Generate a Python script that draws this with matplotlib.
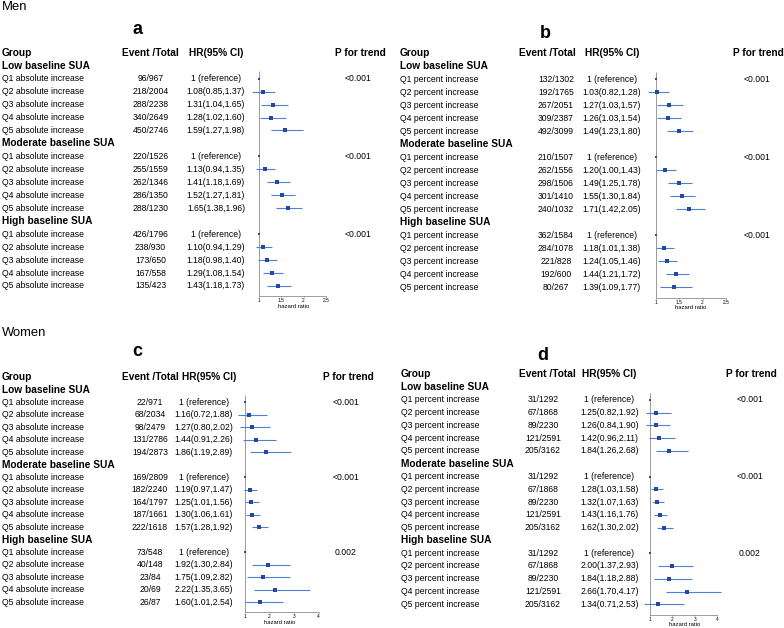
import numpy as np
import matplotlib
matplotlib.use("Agg")
import matplotlib.pyplot as plt

plt.rcParams['font.family'] = ['Liberation Sans', 'DejaVu Sans']

# data

groups = ["Low baseline SUA", "Moderate baseline SUA", "High baseline SUA"]

a_events = ["96/967", "218/2004", "288/2238", "340/2649", "450/2746",
            "220/1526", "255/1559", "262/1346", "286/1350", "288/1230",
            "426/1796", "238/930", "173/650", "167/558", "135/423"]
a_hr = [1, 1.08, 1.31, 1.28, 1.59, 1, 1.13, 1.41, 1.52, 1.65, 1, 1.10, 1.18, 1.29, 1.43]
a_lo = [1, 0.85, 1.04, 1.02, 1.27, 1, 0.94, 1.18, 1.27, 1.38, 1, 0.94, 0.98, 1.08, 1.18]
a_hi = [1, 1.37, 1.65, 1.60, 1.98, 1, 1.35, 1.69, 1.81, 1.96, 1, 1.29, 1.40, 1.54, 1.73]
a_p = ["<0.001", "<0.001", "<0.001"]

b_events = ["132/1302", "192/1765", "267/2051", "309/2387", "492/3099",
            "210/1507", "262/1556", "298/1506", "301/1410", "240/1032",
            "362/1584", "284/1078", "221/828", "192/600", "80/267"]
b_hr = [1, 1.03, 1.27, 1.26, 1.49, 1, 1.20, 1.49, 1.55, 1.71, 1, 1.18, 1.24, 1.44, 1.39]
b_lo = [1, 0.82, 1.03, 1.03, 1.23, 1, 1.00, 1.25, 1.30, 1.42, 1, 1.01, 1.05, 1.21, 1.09]
b_hi = [1, 1.28, 1.57, 1.54, 1.80, 1, 1.43, 1.78, 1.84, 2.05, 1, 1.38, 1.46, 1.72, 1.77]
b_p = ["<0.001", "<0.001", "<0.001"]

c_events = ["22/971", "68/2034", "98/2479", "131/2786", "194/2873",
            "169/2809", "182/2240", "164/1797", "187/1661", "222/1618",
            "73/548", "40/148", "23/84", "20/69", "26/87"]
c_hr = [1, 1.16, 1.27, 1.44, 1.86, 1, 1.19, 1.25, 1.30, 1.57, 1, 1.92, 1.75, 2.22, 1.60]
c_lo = [1, 0.72, 0.80, 0.91, 1.19, 1, 0.97, 1.01, 1.06, 1.28, 1, 1.30, 1.09, 1.35, 1.01]
c_hi = [1, 1.88, 2.02, 2.26, 2.89, 1, 1.47, 1.56, 1.61, 1.92, 1, 2.84, 2.82, 3.65, 2.54]
c_p = ["<0.001", "<0.001", "0.002"]

d_events = ["31/1292", "67/1868", "89/2230", "121/2591", "205/3162",
            "31/1292", "67/1868", "89/2230", "121/2591", "205/3162",
            "31/1292", "67/1868", "89/2230", "121/2591", "205/3162"]
d_hr = [1, 1.25, 1.26, 1.42, 1.84, 1, 1.28, 1.32, 1.43, 1.62, 1, 2.00, 1.84, 2.66, 1.34]
d_lo = [1, 0.82, 0.84, 0.96, 1.26, 1, 1.03, 1.07, 1.16, 1.30, 1, 1.37, 1.18, 1.70, 0.71]
d_hi = [1, 1.92, 1.90, 2.11, 2.68, 1, 1.58, 1.63, 1.76, 2.02, 1, 2.93, 2.88, 4.17, 2.53]
d_p = ["<0.001", "<0.001", "0.002"]

W, H = 784, 628
fig = plt.figure(figsize=(W / 100, H / 100), dpi=100)

def fx(px):
    return px / W

def fy(py):
    return 1 - py / H

line_col = '#4F80D4'
box_col = '#2548A8'
small = 6.2
head = 7.3


def panel(tag, tag_xy, y0, dy, label_x, ev_head_x, ev_x, hr_head_x, hr_x, p_head_x, p_x,
          x1, ppu, ticks, kind, events, hr, lo, hi, pvals):
    row = lambda i: y0 + dy * i

    fig.text(fx(tag_xy[0]), fy(tag_xy[1]), tag, fontsize=13, fontweight='bold',
             ha='center', va='center')
    fig.text(fx(label_x), fy(row(0)), "Group", fontsize=head, fontweight='bold', va='center')
    fig.text(fx(ev_head_x), fy(row(0)), "Event /Total", fontsize=head, fontweight='bold',
             ha='center', va='center')
    fig.text(fx(hr_head_x), fy(row(0)), "HR(95% CI)", fontsize=head, fontweight='bold',
             ha='center', va='center')
    fig.text(fx(p_head_x), fy(row(0)), "P for trend", fontsize=head, fontweight='bold',
             ha='center', va='center')

    rows = []
    for g in range(3):
        fig.text(fx(label_x), fy(row(1 + 6 * g)), groups[g], fontsize=head,
                 fontweight='bold', va='center')
        for k in range(5):
            r = 2 + 6 * g + k
            i = 5 * g + k
            rows.append(r)
            fig.text(fx(label_x), fy(row(r)), f"Q{k+1} {kind} increase", fontsize=small, va='center')
            fig.text(fx(ev_x), fy(row(r)), events[i], fontsize=small, ha='center', va='center')
            if k == 0:
                txt = "1 (reference)"
                fig.text(fx(p_x), fy(row(r)), pvals[g], fontsize=small, ha='center', va='center')
            else:
                txt = f"{hr[i]:.2f}({lo[i]:.2f},{hi[i]:.2f})"
            fig.text(fx(hr_x), fy(row(r)), txt, fontsize=small, ha='center', va='center')

    # forest part
    bot_row = 18.8
    left, right = x1 - 30, x1 + 100
    top, bottom = row(1), row(bot_row)
    ax = fig.add_axes([fx(left), fy(bottom), fx(right) - fx(left), (bottom - top) / H])
    ax.set_xlim(1 + (left - x1) / ppu, 1 + (right - x1) / ppu)
    ax.set_ylim(bot_row, 1)
    ax.patch.set_alpha(0)

    ax.vlines(1, 1.45, bot_row, color='#8a8a8a', lw=0.6)
    rows = np.array(rows)
    hr = np.array(hr); lo = np.array(lo); hi = np.array(hi)
    ref = hr == 1
    ax.plot(hr[ref], rows[ref], 's', ms=1.5, color=box_col, mew=0)
    ax.errorbar(hr[~ref], rows[~ref], xerr=[hr[~ref] - lo[~ref], hi[~ref] - hr[~ref]],
                fmt='s', ms=2.6, mew=0, color=box_col, ecolor=line_col, elinewidth=0.8,
                capsize=0.8, capthick=0.5, clip_on=False)

    for s in ['left', 'top', 'right']:
        ax.spines[s].set_visible(False)
    ax.spines['bottom'].set_bounds(ticks[0], ticks[-1])
    ax.spines['bottom'].set_linewidth(0.4)
    ax.spines['bottom'].set_color('#555555')
    ax.set_yticks([])
    ax.set_xticks(ticks)
    ax.set_xticklabels([f"{t:g}" for t in ticks])
    ax.tick_params(axis='x', labelsize=3.5, length=1, width=0.4, pad=0.5, color='#555555')
    ax.set_xlabel("hazard ratio", fontsize=4.2, labelpad=0.5)


fig.text(fx(2), fy(7.5), "Men", fontsize=9.4, va='center')
fig.text(fx(2), fy(333), "Women", fontsize=9.4, va='center')

panel("a", (137.5, 30), 52.7, 12.96, 2, 150.5, 150.5, 216, 216, 360, 358,
      259, 44.5, [1, 1.5, 2, 2.5], "absolute", a_events, a_hr, a_lo, a_hi, a_p)
panel("b", (545, 33), 53.5, 12.98, 400, 547, 556, 612, 612, 758.5, 756.7,
      656, 46.5, [1, 1.5, 2, 2.5], "percent", b_events, b_hr, b_lo, b_hi, b_p)
panel("c", (137.5, 352), 377.3, 12.5, 2, 150.5, 150, 209, 204, 348, 346,
      245, 24.5, [1, 2, 3, 4], "absolute", c_events, c_hr, c_lo, c_hi, c_p)
panel("d", (542.5, 355.7), 374.3, 12.78, 401, 547, 543, 609.5, 609.5, 751.3, 750,
      650, 22.4, [1, 2, 3, 4], "percent", d_events, d_hr, d_lo, d_hi, d_p)

fig.savefig("out.png", dpi=100)
